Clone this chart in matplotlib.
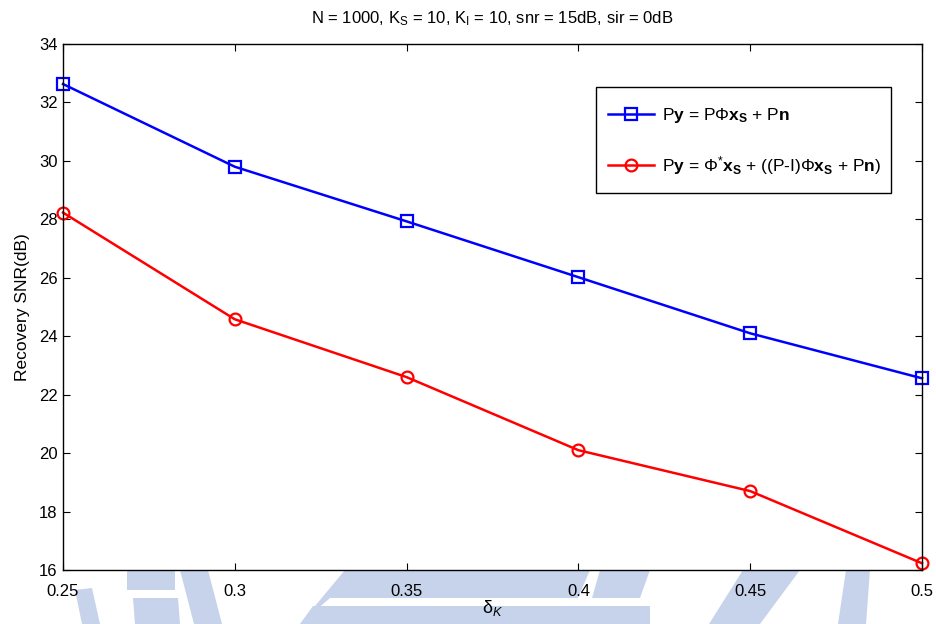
import matplotlib
matplotlib.use("Agg")
import matplotlib.pyplot as plt
from matplotlib.patches import Polygon, Rectangle

plt.rcParams["font.family"] = ["Liberation Sans", "DejaVu Sans"]
plt.rcParams["mathtext.fontset"] = "custom"
plt.rcParams["mathtext.rm"] = "Liberation Sans"
plt.rcParams["mathtext.it"] = "Liberation Sans:italic"
plt.rcParams["mathtext.bf"] = "Liberation Sans:bold"

# recovery SNR vs RIP constant
delta_k = [0.25, 0.3, 0.35, 0.4, 0.45, 0.5]
snr_proj = [32.63, 29.80, 27.93, 26.02, 24.10, 22.56]
snr_interf = [28.23, 24.58, 22.60, 20.10, 18.70, 16.23]

x_ticks = [0.25, 0.3, 0.35, 0.4, 0.45, 0.5]
y_ticks = list(range(16, 35, 2))

label_proj = r"P$\mathbf{y}$ = P$\Phi\mathbf{x}_\mathbf{S}$ + P$\mathbf{n}$"
label_interf = (r"P$\mathbf{y}$ = $\Phi^{*}\mathbf{x}_\mathbf{S}$ + ((P-I)"
                r"$\Phi\mathbf{x}_\mathbf{S}$ + P$\mathbf{n}$)")

W, H = 936, 624
fig = plt.figure(figsize=(W / 100, H / 100), dpi=100)

# faint logo in the page background (pixel coords from top-left)
wm = "#c6d3eb"
shapes = [
    [(75, 590), (92, 588), (100, 624), (82, 624)],
    [(127, 570), (175, 570), (175, 590), (127, 590)],
    [(133, 598), (178, 598), (180, 624), (135, 624)],
    [(180, 570), (208, 570), (222, 624), (194, 624)],
    [(300, 624), (345, 570), (590, 570), (578, 598), (330, 598)],
    [(313, 606), (650, 606), (650, 624), (300, 624)],
    [(600, 570), (650, 570), (640, 598), (592, 598)],
    [(743, 570), (800, 570), (760, 624), (709, 624)],
    [(846, 570), (870, 570), (866, 624), (838, 624)],
]
for pts in shapes:
    fig.patches.append(Polygon([(x / W, 1 - y / H) for x, y in pts],
                               closed=True, transform=fig.transFigure,
                               facecolor=wm, edgecolor="none", zorder=-1))

ax = fig.add_axes([63 / W, 1 - 570 / H, 859 / W, 526 / H])

ax.plot(delta_k, snr_proj, color="blue", lw=1.8, marker="s", ms=8.5,
        mfc="none", mec="blue", mew=1.6, label=label_proj, clip_on=False)
ax.plot(delta_k, snr_interf, color="red", lw=1.8, marker="o", ms=8.5,
        mfc="none", mec="red", mew=1.6, label=label_interf, clip_on=False)

ax.set_xlim(0.25, 0.5)
ax.set_ylim(16, 34)
ax.set_xticks(x_ticks)
ax.set_xticklabels([f"{v:g}" for v in x_ticks])
ax.set_yticks(y_ticks)
ax.tick_params(direction="in", length=5, top=True, right=True, labelsize=12)
ax.tick_params(axis="x", pad=10)
ax.tick_params(axis="y", pad=4)
for s in ax.spines.values():
    s.set_linewidth(1.0)

ax.set_title(r"N = 1000, K$_\mathrm{S}$ = 10, K$_\mathrm{I}$ = 10, "
             r"snr = 15dB, sir = 0dB", fontsize=12, pad=15)
ax.set_xlabel(r"δ$_K$", fontsize=13, labelpad=-1)
ax.set_ylabel("Recovery SNR(dB)", fontsize=12.5, labelpad=6)

# legend entries without frame, box drawn separately
ax.add_patch(Rectangle((0.6205, 0.7167), 0.3434, 0.2015,
                       transform=ax.transAxes, facecolor="white",
                       edgecolor="black", lw=1.0, zorder=4))
leg = ax.legend(loc="upper left", bbox_to_anchor=(0.634, 0.882),
                fontsize=12.5, frameon=False, handlelength=2.7,
                borderpad=0, labelspacing=1.65, handletextpad=0.45,
                borderaxespad=0)
leg.set_zorder(5)

fig.savefig("out.png", dpi=100)
